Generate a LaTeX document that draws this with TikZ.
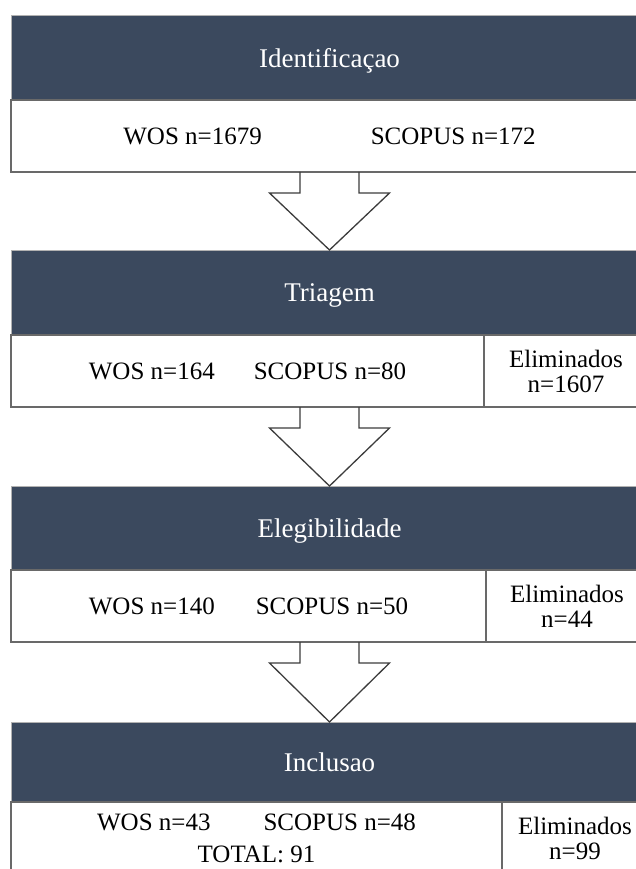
\documentclass[tikz,border=0pt]{standalone}
\usepackage{fontspec}
\setmainfont{Liberation Serif}
\usepackage{tikz}
\usetikzlibrary{positioning,calc}
\definecolor{headblue}{RGB}{59,73,94}
\definecolor{framegray}{RGB}{105,105,105}
\definecolor{arrowgray}{RGB}{60,60,60}
\tikzset{
    header/.style={
           rectangle,
           fill=headblue,
           draw=gray!60, line width=1pt,
           minimum width=637pt,
           inner sep=0pt, outer sep=0pt,
           text depth=0pt,
           text=white,
           font=\fontsize{27}{32}\selectfont,
           },
    body/.style={
           rectangle,
           fill=white,
           draw=framegray, line width=1.5pt,
           minimum height=72pt,
           inner sep=0pt, outer sep=0pt,
           align=center,
           font=\fontsize{25}{25}\selectfont,
           },
    blockarrow/.style={
           draw=arrowgray, line width=1.3pt,
           line join=miter,
           },
}

\begin{document}
\begin{tikzpicture}[x=1pt,y=1pt]
\useasboundingbox (0,0) rectangle (636,-869);
\clip (0,0) rectangle (636,-869);

 \node[header,          % layout (defined above)
  minimum height=84pt]  % height of the bar
  at (329.5,-58) (Ident)
  {Identificaçao};

 \node[body,            % layout (defined above)
  minimum width=637pt,  % full width
  below=0pt of Ident]   % directly under the bar
  (Ident-body)
  {WOS n=1679\hspace{109pt}SCOPUS n=172};


 \node[header,          % layout (defined above)
  minimum height=85pt,  % height of the bar
  below=150pt of Ident] % body (72) + room for the arrow (78)
  (Triagem)
  {Triagem};

 \node[body,            % layout (defined above)
  minimum width=473pt,  % left cell
  below right=0pt and 0pt of Triagem.south west]
  (Triagem-body)
  {WOS n=164\hspace{39pt}SCOPUS n=80};

 \node[body,            % layout (defined above)
  minimum width=164pt,  % right cell
  right=0pt of Triagem-body]
  (Triagem-elim)
  {Eliminados\\n=1607};


 \node[header,          % layout (defined above)
  minimum height=84pt,  % height of the bar
  below=151pt of Triagem] % body (71) + room for the arrow (80)
  (Elegib)
  {Elegibilidade};

 \node[body,            % layout (defined above)
  minimum width=475pt,  % left cell
  below right=0pt and 0pt of Elegib.south west]
  (Elegib-body)
  {WOS n=140\hspace{41pt}SCOPUS n=50};

 \node[body,            % layout (defined above)
  minimum width=162pt,  % right cell
  right=0pt of Elegib-body]
  (Elegib-elim)
  {Eliminados\\n=44};


 \node[header,          % layout (defined above)
  minimum height=80pt,  % height of the bar
  below=152pt of Elegib] % body (72) + room for the arrow (80)
  (Inclusao)
  {Inclusao};

 \node[body,            % layout (defined above)
  minimum width=491pt,  % left cell
  below right=0pt and 0pt of Inclusao.south west]
  (Inclusao-body)
  {WOS n=43\hspace{53pt}SCOPUS n=48\\[7pt]TOTAL: 91};

 \node[body,            % layout (defined above)
  minimum width=146pt,  % right cell
  right=0pt of Inclusao-body]
  (Inclusao-elim)
  {Eliminados\\n=99};


 % the hollow arrows between the stages

 \draw[blockarrow]
  ($(Triagem.north |- Ident-body.south)+(-29.5,0)$) -- ++(0,-21) -- ++(-30.5,0)
  -- (Triagem.north)
  -- ($(Triagem.north |- Ident-body.south)+(60,-21)$) -- ++(-30.5,0) -- ++(0,21);

 \draw[blockarrow]
  ($(Elegib.north |- Triagem-body.south)+(-29.5,0)$) -- ++(0,-21) -- ++(-30.5,0)
  -- (Elegib.north)
  -- ($(Elegib.north |- Triagem-body.south)+(60,-21)$) -- ++(-30.5,0) -- ++(0,21);

 \draw[blockarrow]
  ($(Inclusao.north |- Elegib-body.south)+(-29.5,0)$) -- ++(0,-21) -- ++(-30.5,0)
  -- (Inclusao.north)
  -- ($(Inclusao.north |- Elegib-body.south)+(60,-21)$) -- ++(-30.5,0) -- ++(0,21);

\end{tikzpicture}
\end{document}
